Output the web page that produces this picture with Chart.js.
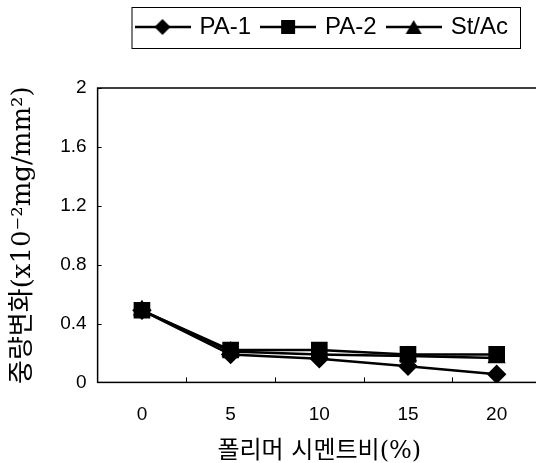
<!DOCTYPE html>
<html>
<head>
<meta charset="utf-8">
<script src="https://cdn.jsdelivr.net/npm/chart.js@4.4.1/dist/chart.umd.min.js"></script>
<style>
  html, body { margin: 0; padding: 0; background: #fff; }
  #wrap { width: 536px; height: 463px; position: relative; }
</style>
</head>
<body>
<div id="wrap"><canvas id="chart"></canvas></div>
<script>
// polymer/cement ratio (%) categories
const ratios = ['0', '5', '10', '15', '20'];
// weight change (x10^-2 mg/mm^2)
const pa1 = [0.49, 0.19, 0.16, 0.11, 0.055];
const pa2 = [0.49, 0.22, 0.22, 0.19, 0.19];
const stac = [0.49, 0.21, 0.19, 0.18, 0.165];
const yTickLabels = ['0', '0.4', '0.8', '1.2', '1.6', '2'];

const sans = "'Liberation Sans', Arial, sans-serif";
const serifKr = "'DejaVu Serif', 'Noto Sans CJK KR', serif";

// little line+marker pictures for the legend
function legendIcon(shape) {
  const cv = document.createElement('canvas');
  cv.width = 56; cv.height = 20;
  const g = cv.getContext('2d');
  g.strokeStyle = '#000';
  g.lineWidth = 2.5;
  g.beginPath(); g.moveTo(0, 10); g.lineTo(56, 10); g.stroke();
  g.fillStyle = '#000';
  g.beginPath();
  if (shape === 'diamond') {
    g.moveTo(28, 2); g.lineTo(36, 10); g.lineTo(28, 18); g.lineTo(20, 10);
  } else if (shape === 'square') {
    g.rect(21, 3, 14, 14);
  } else {
    g.moveTo(28, 3); g.lineTo(36, 17); g.lineTo(20, 17);
  }
  g.closePath();
  g.fill();
  return cv;
}
const icons = [legendIcon('diamond'), legendIcon('square'), legendIcon('triangle')];

// box round the legend, plot frame and inward ticks
const decor = {
  id: 'decor',
  beforeInit(chart) {
    // leave a gap under the legend
    const fit = chart.legend.fit;
    chart.legend.fit = function () { fit.call(this); this.height += 39; };
  },
  afterLayout(chart) {
    chart.legend.right = 520;
    // plot runs a little past the right edge of the picture
    const x = chart.scales.x;
    x.right = 541;
    x.width = x.right - x.left;
    x.configure();
    chart.chartArea.right = 541;
    chart.chartArea.width = 541 - chart.chartArea.left;
  },
  beforeDatasetsDraw(chart) {
    const { ctx, chartArea: a, scales } = chart;
    ctx.save();
    ctx.strokeStyle = '#000';
    ctx.lineWidth = 1.5;
    ctx.strokeRect(a.left, a.top, a.right - a.left, a.bottom - a.top);
    ctx.lineWidth = 1;
    const x = scales.x;
    const half = (x.getPixelForValue(1) - x.getPixelForValue(0)) / 2;
    for (let i = 1; i < ratios.length; i++) {
      const px = Math.round(x.getPixelForValue(i) - half) + 0.5;
      ctx.beginPath(); ctx.moveTo(px, a.bottom); ctx.lineTo(px, a.bottom - 5); ctx.stroke();
    }
    scales.y.ticks.forEach(t => {
      const py = Math.round(scales.y.getPixelForValue(t.value)) + 0.5;
      ctx.beginPath(); ctx.moveTo(a.left, py); ctx.lineTo(a.left + 4, py); ctx.stroke();
    });
    ctx.restore();
  },
  afterDraw(chart) {
    const lg = chart.legend;
    if (!lg || !lg.lineWidths) return;
    const ctx = chart.ctx;
    const pad = lg.options.labels.padding;
    const left = lg.right - lg.lineWidths[0] - 6;
    const mid = lg.top + pad + 12;
    ctx.save();
    ctx.strokeStyle = '#000';
    ctx.lineWidth = 1;
    ctx.strokeRect(left + 0.5, Math.round(mid - 20) + 0.5, lg.right - left, 41);
    ctx.restore();
  }
};

const common = { borderColor: '#000', backgroundColor: '#000', borderWidth: 2.5, fill: false, tension: 0 };

new Chart(document.getElementById('chart'), {
  type: 'line',
  data: {
    labels: ratios,
    datasets: [
      { ...common, label: 'PA-1', data: pa1, pointStyle: 'rectRot', pointRadius: 8, order: 1 },
      { ...common, label: 'PA-2', data: pa2, pointStyle: 'rect', pointRadius: 10, order: 0 },
      { ...common, label: 'St/Ac', data: stac, pointStyle: 'triangle', pointRadius: 8, order: 2 }
    ]
  },
  options: {
    responsive: true,
    maintainAspectRatio: false,
    animation: false,
    layout: { autoPadding: false, padding: { top: 3, left: 8, right: 0, bottom: -3 } },
    plugins: {
      legend: {
        position: 'top',
        align: 'end',
        labels: {
          color: '#000',
          font: { family: sans, size: 24 },
          usePointStyle: true,
          pointStyleWidth: 50,
          padding: 12,
          generateLabels: chart => chart.data.datasets.map((ds, i) => ({
            text: ds.label,
            pointStyle: icons[i],
            fillStyle: '#000',
            strokeStyle: '#000',
            lineWidth: 0,
            datasetIndex: i
          }))
        }
      },
      tooltip: { enabled: false }
    },
    scales: {
      x: {
        offset: true,
        afterFit: s => { s.paddingRight = 0; },
        grid: { display: false, drawTicks: false },
        border: { display: false },
        ticks: { color: '#000', font: { family: sans, size: 19 }, padding: 21 },
        title: {
          display: true,
          text: '폴리머 시멘트비(%)',
          color: '#000',
          font: { family: serifKr, size: 24 },
          padding: { top: -10, bottom: 0 }
        }
      },
      y: {
        min: 0,
        max: 2,
        grid: { display: false, drawTicks: false },
        border: { display: false },
        ticks: {
          stepSize: 0.4,
          color: '#000',
          font: { family: sans, size: 19 },
          padding: 11,
          callback: (v, i) => yTickLabels[i]
        },
        title: {
          display: true,
          text: '중량변화(x10⁻²mg/mm²)',
          color: '#000',
          font: { family: serifKr, size: 26 },
          padding: { top: 0, bottom: 10 }
        }
      }
    }
  },
  plugins: [decor]
});
</script>
</body>
</html>
